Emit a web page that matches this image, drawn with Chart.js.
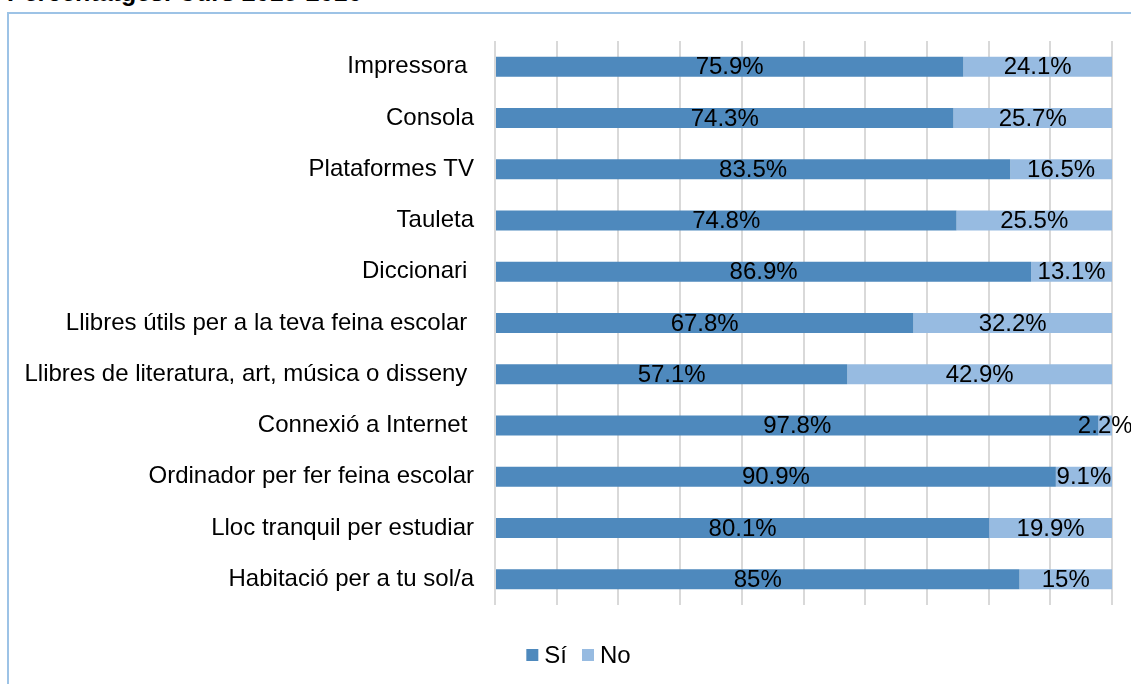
<!DOCTYPE html>
<html>
<head>
<meta charset="utf-8">
<script src="https://cdn.jsdelivr.net/npm/chart.js@4/dist/chart.umd.min.js"></script>
<style>
html,body{margin:0;padding:0;background:#fff;}
#wrap{position:relative;width:1131px;height:684px;overflow:hidden;}
#title{position:absolute;left:7px;top:-23px;font:bold 25px "Liberation Sans",Arial,sans-serif;color:#000;white-space:nowrap;line-height:30px;}
#frame{position:absolute;left:7px;top:12px;width:1140px;height:700px;border:2px solid #9DC3E6;box-sizing:border-box;}
canvas{position:absolute;left:0;top:0;}
</style>
</head>
<body>
<div id="wrap">
<div id="title">Percentatges. Curs 2015-2016</div>
<div id="frame"></div>
<canvas id="c" width="1131" height="684"></canvas>
</div>
<script>
const categories = [
  "Impressora ",
  "Consola",
  "Plataformes TV",
  "Tauleta",
  "Diccionari ",
  "Llibres útils per a la teva feina escolar ",
  "Llibres de literatura, art, música o disseny ",
  "Connexió a Internet ",
  "Ordinador per fer feina escolar",
  "Lloc tranquil per estudiar",
  "Habitació per a tu sol/a"
];
const siValues = [75.9, 74.3, 83.5, 74.8, 86.9, 67.8, 57.1, 97.8, 90.9, 80.1, 85];
const noValues = [24.1, 25.7, 16.5, 25.5, 13.1, 32.2, 42.9, 2.2, 9.1, 19.9, 15];
const seriesNames = ["Sí", "No"];
const xTicks = [0,10,20,30,40,50,60,70,80,90,100];

const FONT = '"Liberation Sans", Arial, sans-serif';

const labelPlugin = {
  id: 'segLabels',
  afterDatasetsDraw(chart) {
    const ctx = chart.ctx;
    const area = chart.chartArea;
    ctx.save();
    ctx.font = '24px ' + FONT;
    ctx.fillStyle = '#000';
    ctx.textAlign = 'center';
    ctx.textBaseline = 'middle';
    chart.data.datasets.forEach((ds, di) => {
      const meta = chart.getDatasetMeta(di);
      meta.data.forEach((bar, i) => {
        const x1 = Math.min(bar.base, bar.x);
        const x2 = Math.min(Math.max(bar.base, bar.x), area.right);
        const cx = (x1 + x2) / 2;
        ctx.fillText(ds.data[i] + '%', cx, bar.y + 1);
      });
    });
    ctx.restore();
  }
};

const legendPlugin = {
  id: 'customLegend',
  afterDraw(chart) {
    const ctx = chart.ctx;
    ctx.save();
    ctx.font = '24px ' + FONT;
    ctx.textBaseline = 'alphabetic';
    ctx.textAlign = 'left';
    const box = 12, gapText = 6, gapItem = 15;
    const items = chart.data.datasets.map(ds => ({ text: ds.label, color: ds.backgroundColor, w: ctx.measureText(ds.label).width }));
    let total = 0;
    items.forEach((it, i) => { total += box + gapText + it.w + (i < items.length - 1 ? gapItem : 0); });
    let x = 578.5 - total / 2;
    const boxTop = 649, baseline = 663;
    items.forEach(it => {
      ctx.fillStyle = it.color;
      ctx.fillRect(x, boxTop, box, box);
      ctx.fillStyle = '#000';
      ctx.fillText(it.text, x + box + gapText, baseline);
      x += box + gapText + it.w + gapItem;
    });
    ctx.restore();
  }
};

new Chart(document.getElementById('c'), {
  type: 'bar',
  data: {
    labels: categories,
    datasets: [
      { label: seriesNames[0], data: siValues, backgroundColor: '#4E89BD', borderWidth: 0, barPercentage: 0.39, categoryPercentage: 1.0 },
      { label: seriesNames[1], data: noValues, backgroundColor: '#97BBE1', borderWidth: 0, barPercentage: 0.39, categoryPercentage: 1.0 }
    ]
  },
  options: {
    indexAxis: 'y',
    responsive: false,
    animation: false,
    devicePixelRatio: 1,
    layout: { padding: { left: 10, right: 19, top: 41, bottom: 79 } },
    scales: {
      x: {
        stacked: true,
        min: 0, max: 100,
        afterBuildTicks(axis) { axis.ticks = xTicks.map(v => ({ value: v })); },
        ticks: { display: false },
        grid: { color: '#D9D9D9', lineWidth: 2, drawTicks: false },
        border: { display: false }
      },
      y: {
        stacked: true,
        afterFit(axis) { axis.width = 485; },
        ticks: { color: '#000', font: { family: FONT, size: 24 }, padding: 21, autoSkip: false },
        grid: { display: false, drawTicks: false },
        border: { display: false }
      }
    },
    plugins: {
      legend: { display: false },
      tooltip: { enabled: false },
      title: { display: false }
    }
  },
  plugins: [labelPlugin, legendPlugin]
});
</script>
</body>
</html>
